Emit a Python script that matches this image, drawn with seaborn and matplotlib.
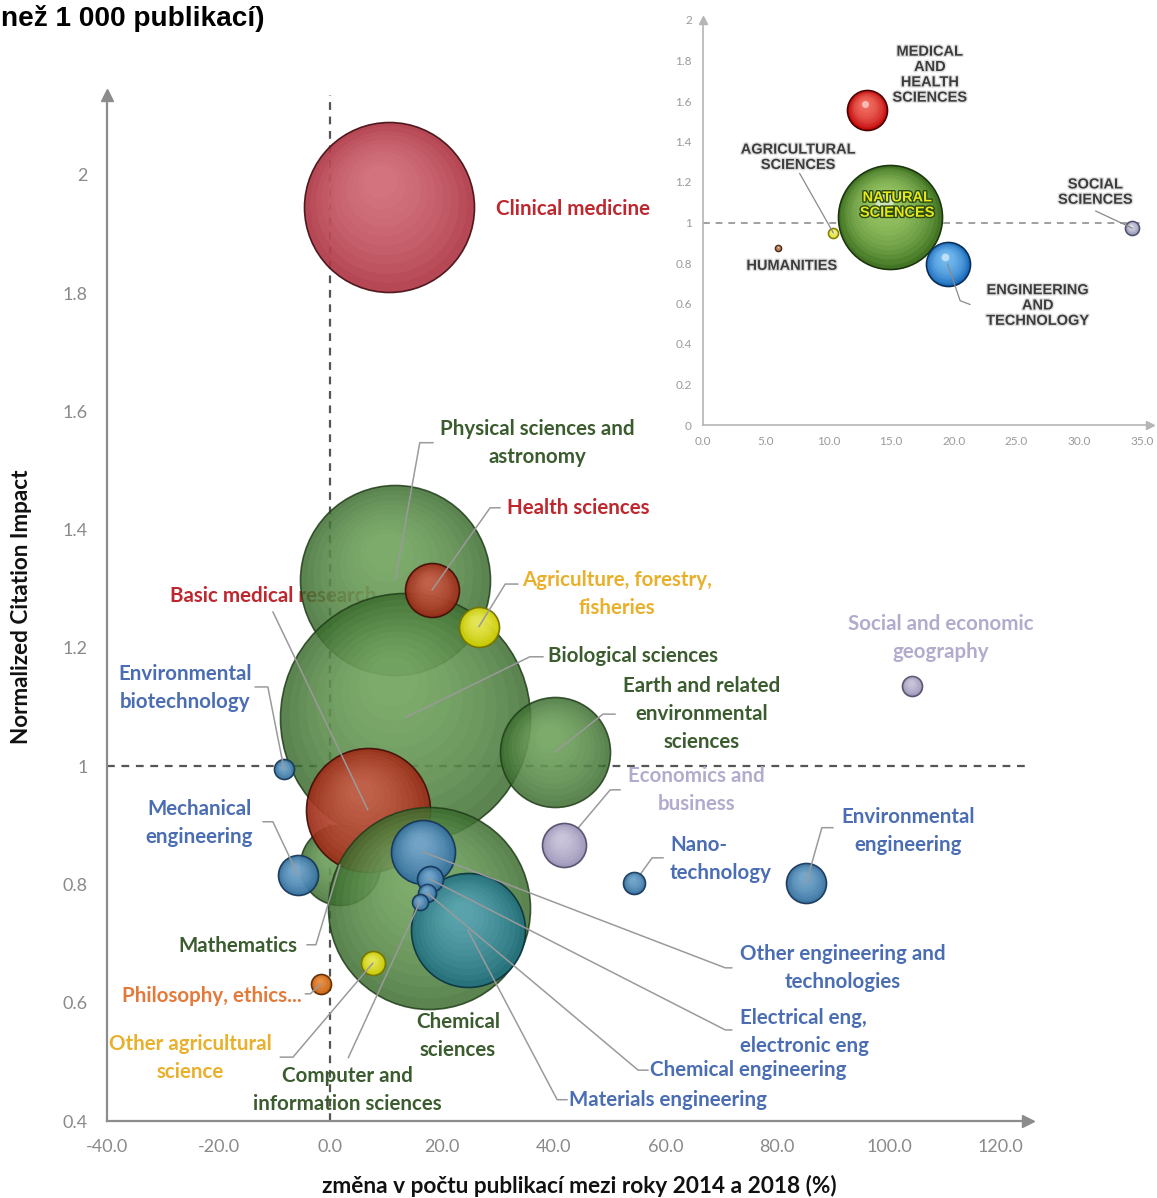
import numpy as np
import pandas as pd
import matplotlib
matplotlib.use("Agg")
import matplotlib.pyplot as plt
import matplotlib.transforms as mtransforms
import matplotlib.patheffects as pe
import seaborn as sns

# ---------------- Obory (hlavní graf) ----------------
obory = [
    "Physical sciences and astronomy", "Biological sciences", "Clinical medicine",
    "Earth and related environmental sciences", "Mathematics", "Basic medical research",
    "Chemical sciences", "Materials engineering", "Other engineering and technologies",
    "Health sciences", "Agriculture, forestry, fisheries", "Electrical eng, electronic eng",
    "Chemical engineering", "Computer and information sciences", "Environmental biotechnology",
    "Mechanical engineering", "Other agricultural science", "Philosophy, ethics...",
    "Economics and business", "Nano-technology", "Environmental engineering",
    "Social and economic geography",
]
zmena = [11.6, 13.4, 10.5, 40.2, 1.7, 6.7, 17.7, 24.6, 16.6, 18.2, 26.6, 17.8,
         17.3, 16.0, -8.3, -5.8, 7.6, -1.7, 41.8, 54.4, 85.2, 104.1]
nci = [1.315, 1.082, 1.946, 1.024, 0.833, 0.926, 0.760, 0.723, 0.855, 1.298, 1.236, 0.809,
       0.786, 0.770, 0.995, 0.816, 0.667, 0.632, 0.867, 0.803, 0.803, 1.136]
velikost = [9025, 15625, 7225, 3025, 1600, 3844, 10201, 3249, 1024, 729, 400, 169,
            81, 64, 100, 400, 144, 100, 484, 121, 400, 100]
skupina = ["zel", "zel", "klin", "zel", "zel", "cerv", "zel", "tyrk", "modra", "cerv", "zluta",
           "modra", "modra", "modra", "modra", "modra", "zluta", "oranz", "levand", "modra",
           "modra", "levand"]

# ---------------- Hlavní oblasti (vložený graf) ----------------
oblasti = ["NATURAL SCIENCES", "MEDICAL AND HEALTH SCIENCES", "ENGINEERING AND TECHNOLOGY",
           "AGRICULTURAL SCIENCES", "HUMANITIES", "SOCIAL SCIENCES"]
oblasti_zmena = [14.9, 13.1, 19.5, 10.4, 6.0, 34.2]
oblasti_nci = [1.027, 1.558, 0.796, 0.948, 0.875, 0.973]
oblasti_velikost = [2704, 400, 484, 25, 9, 49]
oblasti_skupina = ["i_zel", "i_cerv", "i_modra", "i_zluta", "i_hneda", "i_levand"]

x_ticks = [-40, -20, 0, 20, 40, 60, 80, 100, 120]
y_ticks = [0.4, 0.6, 0.8, 1.0, 1.2, 1.4, 1.6, 1.8, 2.0]
y_tick_labels = ["0.4", "0.6", "0.8", "1", "1.2", "1.4", "1.6", "1.8", "2"]
ix_ticks = [0, 5, 10, 15, 20, 25, 30, 35]
iy_ticks = [0, 0.2, 0.4, 0.6, 0.8, 1.0, 1.2, 1.4, 1.6, 1.8, 2.0]
iy_tick_labels = ["0", "0.2", "0.4", "0.6", "0.8", "1", "1.2", "1.4", "1.6", "1.8", "2"]

# ---------------- Styl ----------------
# skupina: (základ, okraj, světlo, průhlednost)
styl = {
    "zel": ("#3b6c2e", "#1f3c18", "#9acb86", 0.84),
    "klin": ("#b03a47", "#451016", "#ec96a0", 0.93),
    "cerv": ("#9c2c18", "#420e06", "#e0846a", 0.92),
    "tyrk": ("#23707f", "#0c3440", "#80c8d0", 0.92),
    "modra": ("#33709f", "#183658", "#a0cbea", 0.94),
    "zluta": ("#cccc00", "#747400", "#ffff96", 0.96),
    "oranz": ("#c9600c", "#622c00", "#ffae6c", 0.96),
    "levand": ("#9d95b8", "#56506e", "#ebe7f5", 0.96),
    "i_zel": ("#437524", "#1b360e", "#b4e07a", 1.0),
    "i_cerv": ("#c40a0a", "#4a0000", "#ff8a7a", 1.0),
    "i_modra": ("#1c6dbe", "#0a2c56", "#8cd0ff", 1.0),
    "i_zluta": ("#d8d820", "#808000", "#ffffa0", 1.0),
    "i_hneda": ("#9a6a48", "#4a2a10", "#e0b090", 1.0),
    "i_levand": ("#8e8eae", "#4e4e6e", "#e6e6f6", 1.0),
}

C_RED, C_GREEN, C_GOLD = "#bf272e", "#3b5c2e", "#e9b02c"
C_ORANGE, C_BLUE, C_LAV = "#e47a3a", "#4a6db3", "#b3abcd"

# popisky: text, x, y, zarovnání, barva
popisky = {
    "Clinical medicine": ("Clinical medicine", 43.4, 1.942, "center", C_RED),
    "Physical sciences and astronomy": ("Physical sciences and\nastronomy", 37.0, 1.547, "center", C_GREEN),
    "Health sciences": ("Health sciences", 44.3, 1.437, "center", C_RED),
    "Agriculture, forestry, fisheries": ("Agriculture, forestry,\nfisheries", 51.3, 1.292, "center", C_GOLD),
    "Biological sciences": ("Biological sciences", 54.2, 1.186, "center", C_GREEN),
    "Earth and related environmental sciences": ("Earth and related\nenvironmental\nsciences", 66.5, 1.088, "center", C_GREEN),
    "Social and economic geography": ("Social and economic\ngeography", 109.3, 1.217, "center", C_LAV),
    "Environmental biotechnology": ("Environmental\nbiotechnology", -26.0, 1.133, "center", C_BLUE),
    "Basic medical research": ("Basic medical research", -10.3, 1.288, "center", C_RED),
    "Economics and business": ("Economics and\nbusiness", 65.6, 0.959, "center", C_LAV),
    "Mechanical engineering": ("Mechanical\nengineering", -23.5, 0.904, "center", C_BLUE),
    "Nano-technology": ("Nano-\ntechnology", 60.8, 0.843, "left", C_BLUE),
    "Environmental engineering": ("Environmental\nengineering", 103.4, 0.890, "center", C_BLUE),
    "Mathematics": ("Mathematics", -6.0, 0.696, "right", C_GREEN),
    "Other engineering and technologies": ("Other engineering and\ntechnologies", 91.8, 0.658, "center", C_BLUE),
    "Philosophy, ethics...": ("Philosophy, ethics...", -5.1, 0.611, "right", C_ORANGE),
    "Chemical sciences": ("Chemical\nsciences", 22.8, 0.543, "center", C_GREEN),
    "Electrical eng, electronic eng": ("Electrical eng,\nelectronic eng", 73.3, 0.551, "left", C_BLUE),
    "Other agricultural science": ("Other agricultural\nscience", -25.1, 0.507, "center", C_GOLD),
    "Computer and information sciences": ("Computer and\ninformation sciences", 3.0, 0.453, "center", C_GREEN),
    "Chemical engineering": ("Chemical engineering", 57.2, 0.486, "left", C_BLUE),
    "Materials engineering": ("Materials engineering", 42.7, 0.436, "left", C_BLUE),
}

# odkazové čáry: bod u popisku, lom, (čára nad bublinami?)
odkazy = {
    "Physical sciences and astronomy": ((18.4, 1.547), (16.0, 1.547), True),
    "Health sciences": ((30.4, 1.437), (28.6, 1.437), True),
    "Agriculture, forestry, fisheries": ((33.6, 1.308), (31.3, 1.308), True),
    "Biological sciences": ((38.1, 1.185), (35.7, 1.185), True),
    "Earth and related environmental sciences": ((51.0, 1.088), (48.8, 1.088), True),
    "Environmental biotechnology": ((-13.5, 1.134), (-11.2, 1.134), True),
    "Basic medical research": ((-10.3, 1.261), (-10.3, 1.261), True),
    "Mechanical engineering": ((-12.1, 0.906), (-10.3, 0.906), True),
    "Mathematics": ((-4.2, 0.698), (-2.6, 0.698), True),
    "Philosophy, ethics...": ((-4.5, 0.615), (-3.6, 0.615), True),
    "Other agricultural science": ((-9.0, 0.508), (-6.7, 0.508), True),
    "Computer and information sciences": ((3.2, 0.507), (3.2, 0.507), True),
    "Economics and business": ((51.9, 0.960), (50.1, 0.960), False),
    "Nano-technology": ((59.6, 0.845), (57.6, 0.845), False),
    "Environmental engineering": ((90.0, 0.896), (88.0, 0.896), True),
    "Other engineering and technologies": ((71.9, 0.659), (70.7, 0.659), True),
    "Electrical eng, electronic eng": ((71.9, 0.554), (70.7, 0.554), True),
    "Chemical engineering": ((56.9, 0.486), (55.1, 0.486), True),
    "Materials engineering": ((42.4, 0.436), (40.6, 0.436), True),
}

oblasti_popisky = {
    "MEDICAL AND HEALTH SCIENCES": ("MEDICAL\nAND\nHEALTH\nSCIENCES", 18.1, 1.730, "#3c3c3c"),
    "AGRICULTURAL SCIENCES": ("AGRICULTURAL\nSCIENCES", 7.6, 1.322, "#3c3c3c"),
    "NATURAL SCIENCES": ("NATURAL\nSCIENCES", 15.5, 1.086, "#e6ea1c"),
    "SOCIAL SCIENCES": ("SOCIAL\nSCIENCES", 31.3, 1.150, "#3c3c3c"),
    "HUMANITIES": ("HUMANITIES", 7.1, 0.786, "#3c3c3c"),
    "ENGINEERING AND TECHNOLOGY": ("ENGINEERING\nAND\nTECHNOLOGY", 26.7, 0.590, "#3c3c3c"),
}
oblasti_odkazy = {
    "AGRICULTURAL SCIENCES": [(7.7, 1.243)],
    "SOCIAL SCIENCES": [(31.3, 1.057)],
    "ENGINEERING AND TECHNOLOGY": [(21.3, 0.595), (20.5, 0.614)],
}

# ---------------- Kreslení ----------------
sns.set_style("white")
plt.rcParams["font.family"] = ["Lato", "DejaVu Sans"]

DPI = 100
fig = plt.figure(figsize=(11.57, 11.98), dpi=DPI)
W, H = 1157, 1198


def koule(ax, x, y, s, svetlo, z, n=10, alfa=0.12, dx=-0.12, dy=0.32, lesk=0.0):
    """Kulový lesk: soustředné světlé kruhy posunuté k hornímu okraji."""
    r = np.sqrt(s) / 2.0
    for k in range(1, n + 1):
        t = k / (n + 1)
        rk = r * (1 - 0.88 * t)
        off = mtransforms.ScaledTranslation(dx * r * t / 72, dy * r * t / 72, fig.dpi_scale_trans)
        ax.scatter([x], [y], s=(2 * rk) ** 2, color=svetlo, alpha=alfa, lw=0,
                   transform=ax.transData + off, zorder=z)
    if lesk > 0:
        off = mtransforms.ScaledTranslation(dx * r * 0.9 / 72, dy * r * 0.9 / 72, fig.dpi_scale_trans)
        ax.scatter([x], [y], s=(0.35 * r) ** 2, color="white", alpha=lesk, lw=0,
                   transform=ax.transData + off, zorder=z)


def bubliny(ax, df, name_col, size_max_val, s_max, z0, n=10, alfa=0.12, lesk=0.0):
    paleta = {row[name_col]: styl[row["sk"]][0] for _, row in df.iterrows()}
    for i in range(len(df)):
        radek = df.iloc[[i]]
        sk = radek["sk"].iloc[0]
        zaklad, okraj, svetlo, pr = styl[sk]
        z = z0 + i * 0.01
        sns.scatterplot(data=radek, x="x", y="y", hue=name_col, palette=paleta,
                        size="v", sizes=(0, s_max), size_norm=(0, size_max_val),
                        alpha=pr, edgecolor=okraj, linewidth=1.2, legend=False,
                        ax=ax, zorder=z)
        s = s_max * radek["v"].iloc[0] / size_max_val
        koule(ax, radek["x"].iloc[0], radek["y"].iloc[0], s, svetlo, z + 0.001,
              n=n, alfa=alfa, lesk=lesk)


# ---- hlavní osa ----
ax = fig.add_axes([107 / W, (H - 1121) / H, (1028 - 107) / W, (1121 - 95) / H])
ax.set_xlim(-40, 124.9)
ax.set_ylim(0.4, 2.135)
ax.patch.set_alpha(0)

df = pd.DataFrame({"obor": obory, "x": zmena, "y": nci, "v": velikost, "sk": skupina})
VMAX = max(velikost)
SMAX = (2 * 125.0 * 72 / DPI) ** 2
bubliny(ax, df, "obor", VMAX, SMAX, z0=2, n=10, alfa=0.085)

ax.axvline(0, color="#555555", lw=1.6, ls=(0, (3.5, 3)), zorder=1)
ax.axhline(1, color="#555555", lw=1.6, ls=(0, (3.5, 3)), zorder=1)

seda = "#8c8c8c"
for sp in ["top", "right"]:
    ax.spines[sp].set_visible(False)
for sp in ["left", "bottom"]:
    ax.spines[sp].set_color(seda)
    ax.spines[sp].set_linewidth(1.6)
ax.plot(1, 0, marker=">", ms=8, color=seda, transform=ax.transAxes, clip_on=False)
ax.plot(0, 1, marker="^", ms=8, color=seda, transform=ax.transAxes, clip_on=False)

ax.set_xticks(x_ticks)
ax.set_xticklabels([f"{v:.1f}" for v in x_ticks])
ax.set_yticks(y_ticks)
ax.set_yticklabels(y_tick_labels)
ax.tick_params(axis="both", direction="out", length=5, width=1, color=seda,
               labelcolor="#8a8a8a", labelsize=13, pad=9)
ax.tick_params(axis="x", pad=8)
ax.set_xlabel("")
ax.set_ylabel("")

# popisky oborů
for klic, (txt, x, y, ha, barva) in popisky.items():
    zz = 1.5 if klic == "Basic medical research" else 20
    ax.text(x, y, txt, ha=ha, va="center", color=barva, fontsize=14.8, fontweight="bold",
            linespacing=1.5, multialignment=ha, zorder=zz)

# odkazové čáry
for klic, (p1, p2, nahore) in odkazy.items():
    i = obory.index(klic)
    xs = [p1[0], p2[0], zmena[i]]
    ys = [p1[1], p2[1], nci[i]]
    ax.plot(xs, ys, color="#9a9a9a", lw=1.1, zorder=15 if nahore else 1.8)

fig.text(0.5 * (318 + 840) / W, 1 - 1186 / H,
         "změna v počtu publikací mezi roky 2014 a 2018 (%)",
         ha="center", va="center", fontsize=16.3, fontweight="bold", color="#111111")
fig.text(22 / W, 1 - 607 / H, "Normalized Citation Impact", rotation=90,
         ha="center", va="center", fontsize=16.2, fontweight="bold", color="#111111")
fig.text(1 / W, 1 - 18 / H, "než 1 000 publikací)", ha="left", va="center",
         fontsize=20.2, fontweight="bold", color="#000000", family=["Liberation Sans", "DejaVu Sans"])

# ---- vložený graf ----
axi = fig.add_axes([703 / W, (H - 425) / H, (1150 - 703) / W, (425 - 20) / H])
axi.set_xlim(0, 35.64)
axi.set_ylim(0, 1.99)
axi.patch.set_facecolor("white")
axi.patch.set_alpha(1)

dfi = pd.DataFrame({"obl": oblasti, "x": oblasti_zmena, "y": oblasti_nci,
                    "v": oblasti_velikost, "sk": oblasti_skupina})
IVMAX = max(oblasti_velikost)
ISMAX = (2 * 52.0 * 72 / DPI) ** 2
axi.axhline(1, xmin=0, xmax=35 / 35.64, color="#a0a0a0", lw=1.4, ls=(0, (3.5, 3)), zorder=1)
bubliny(axi, dfi, "obl", IVMAX, ISMAX, z0=2, n=12, alfa=0.12, lesk=0.55)

iseda = "#b5b5b5"
for sp in ["top", "right"]:
    axi.spines[sp].set_visible(False)
for sp in ["left", "bottom"]:
    axi.spines[sp].set_color(iseda)
    axi.spines[sp].set_linewidth(1.2)
axi.plot(1, 0, marker=">", ms=6, color=iseda, transform=axi.transAxes, clip_on=False)
axi.plot(0, 1, marker="^", ms=6, color=iseda, transform=axi.transAxes, clip_on=False)
axi.set_xticks(ix_ticks)
axi.set_xticklabels([f"{v:.1f}" for v in ix_ticks])
axi.set_yticks(iy_ticks)
axi.set_yticklabels(iy_tick_labels)
axi.tick_params(axis="both", length=0, labelcolor="#9a9a9a", labelsize=8.5, pad=8)
axi.set_xlabel("")
axi.set_ylabel("")

for klic, (txt, x, y, barva) in oblasti_popisky.items():
    obrys = "#2c4a10" if barva != "#3c3c3c" else "#e0e0e0"
    axi.text(x, y, txt, ha="center", va="center", color=barva, fontsize=10.5,
             fontweight="bold", linespacing=1.12, zorder=20,
             family=["Liberation Sans", "DejaVu Sans"],
             path_effects=[pe.withStroke(linewidth=2, foreground=obrys)])

for klic, body in oblasti_odkazy.items():
    i = oblasti.index(klic)
    xs = [b[0] for b in body] + [oblasti_zmena[i]]
    ys = [b[1] for b in body] + [oblasti_nci[i]]
    axi.plot(xs, ys, color="#8a8a8a", lw=0.9, zorder=10)

fig.savefig("out.png", dpi=DPI)
